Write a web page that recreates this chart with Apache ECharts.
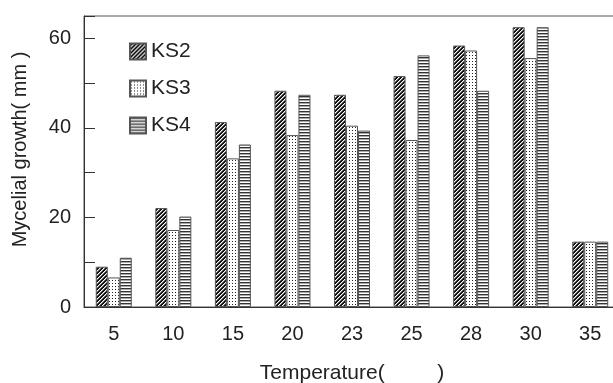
<!DOCTYPE html>
<html><head><meta charset="utf-8">
<script src="https://cdn.jsdelivr.net/npm/echarts@6/dist/echarts.min.js"></script>
<style>html,body{margin:0;padding:0;background:#fff}#c{width:613px;height:383px}</style>
</head><body><div id="c"></div>
<script>
const categories = ['5','10','15','20','23','25','28','30','35'];
const ks2 = [9.0, 22.1, 41.3, 48.3, 47.4, 51.6, 58.4, 62.5, 14.6];
const ks3 = [6.6, 17.2, 33.2, 38.4, 40.5, 37.3, 57.3, 55.6, 14.6];
const ks4 = [11.0, 20.2, 36.3, 47.4, 39.4, 56.2, 48.3, 62.5, 14.6];
const yLabels = [0, 20, 40, 60];

function pat(kind){
  const c = document.createElement('canvas');
  const ctx = c.getContext('2d');
  if(kind==='diag'){
    c.width=4;c.height=4;
    ctx.fillStyle='#111';ctx.fillRect(0,0,4,4);
    ctx.fillStyle='#fff';
    for(let y=0;y<4;y++){ ctx.fillRect((3-y+4)%4,y,1,1); }
    ctx.fillStyle='#888';
    for(let y=0;y<4;y++){ ctx.fillRect((4-y)%4,y,1,1); }
  } else if(kind==='dots'){
    c.width=3;c.height=3;
    ctx.fillStyle='#fff';ctx.fillRect(0,0,3,3);
    ctx.fillStyle='#222';ctx.fillRect(1,1,1,1);
  } else {
    c.width=2;c.height=3;
    ctx.fillStyle='#fff';ctx.fillRect(0,0,2,3);
    ctx.fillStyle='#333';ctx.fillRect(0,0,2,1);
    ctx.fillStyle='#aaa';ctx.fillRect(0,1,2,1);
  }
  return {image:c, repeat:'repeat'};
}

const font = 'Liberation Sans';
const chart = echarts.init(document.getElementById('c'));
const barStyle = (k)=>({color:pat(k), borderColor:'#555', borderWidth:1});
chart.setOption({
  animation:false,
  textStyle:{fontFamily:font},
  grid:{left:84, right:-7, top:16, bottom:76, show:true, borderColor:'#555', borderWidth:1,
        containLabel:false, outerBoundsMode:'none'},
  legend:{
    orient:'vertical', left:124, top:36, itemWidth:16, itemHeight:16, itemGap:16, icon:'rect',
    textStyle:{fontSize:21, color:'#222', fontFamily:font},
    data:['KS2','KS3','KS4']
  },
  xAxis:{
    type:'category', data:categories,
    axisLine:{lineStyle:{color:'#333'}}, axisTick:{show:false},
    axisLabel:{fontSize:20, color:'#222', margin:17},
    name:'Temperature(         )', nameLocation:'middle', nameGap:56,
    nameTextStyle:{fontSize:21, color:'#222'}
  },
  yAxis:{
    type:'value', min:0, max:65, interval:10,
    axisLine:{show:true, lineStyle:{color:'#333'}},
    axisTick:{show:true, inside:true, length:11, lineStyle:{color:'#333'}},
    splitLine:{show:false},
    axisLabel:{fontSize:20, color:'#222', margin:13,
      formatter:(v)=> yLabels.indexOf(v)>=0 ? String(v) : ''},
    name:'Mycelial growth( mm )', nameLocation:'middle', nameGap:54, nameRotate:90,
    nameTextStyle:{fontSize:20, color:'#222', padding:[0,0,0,24]}
  },
  series:[
    {name:'KS2', type:'bar', data:ks2, barWidth:12, barGap:'0%', itemStyle:barStyle('diag')},
    {name:'KS3', type:'bar', data:ks3, barWidth:12, barGap:'0%', itemStyle:barStyle('dots')},
    {name:'KS4', type:'bar', data:ks4, barWidth:12, barGap:'0%', itemStyle:barStyle('horiz')}
  ]
});
</script></body></html>
